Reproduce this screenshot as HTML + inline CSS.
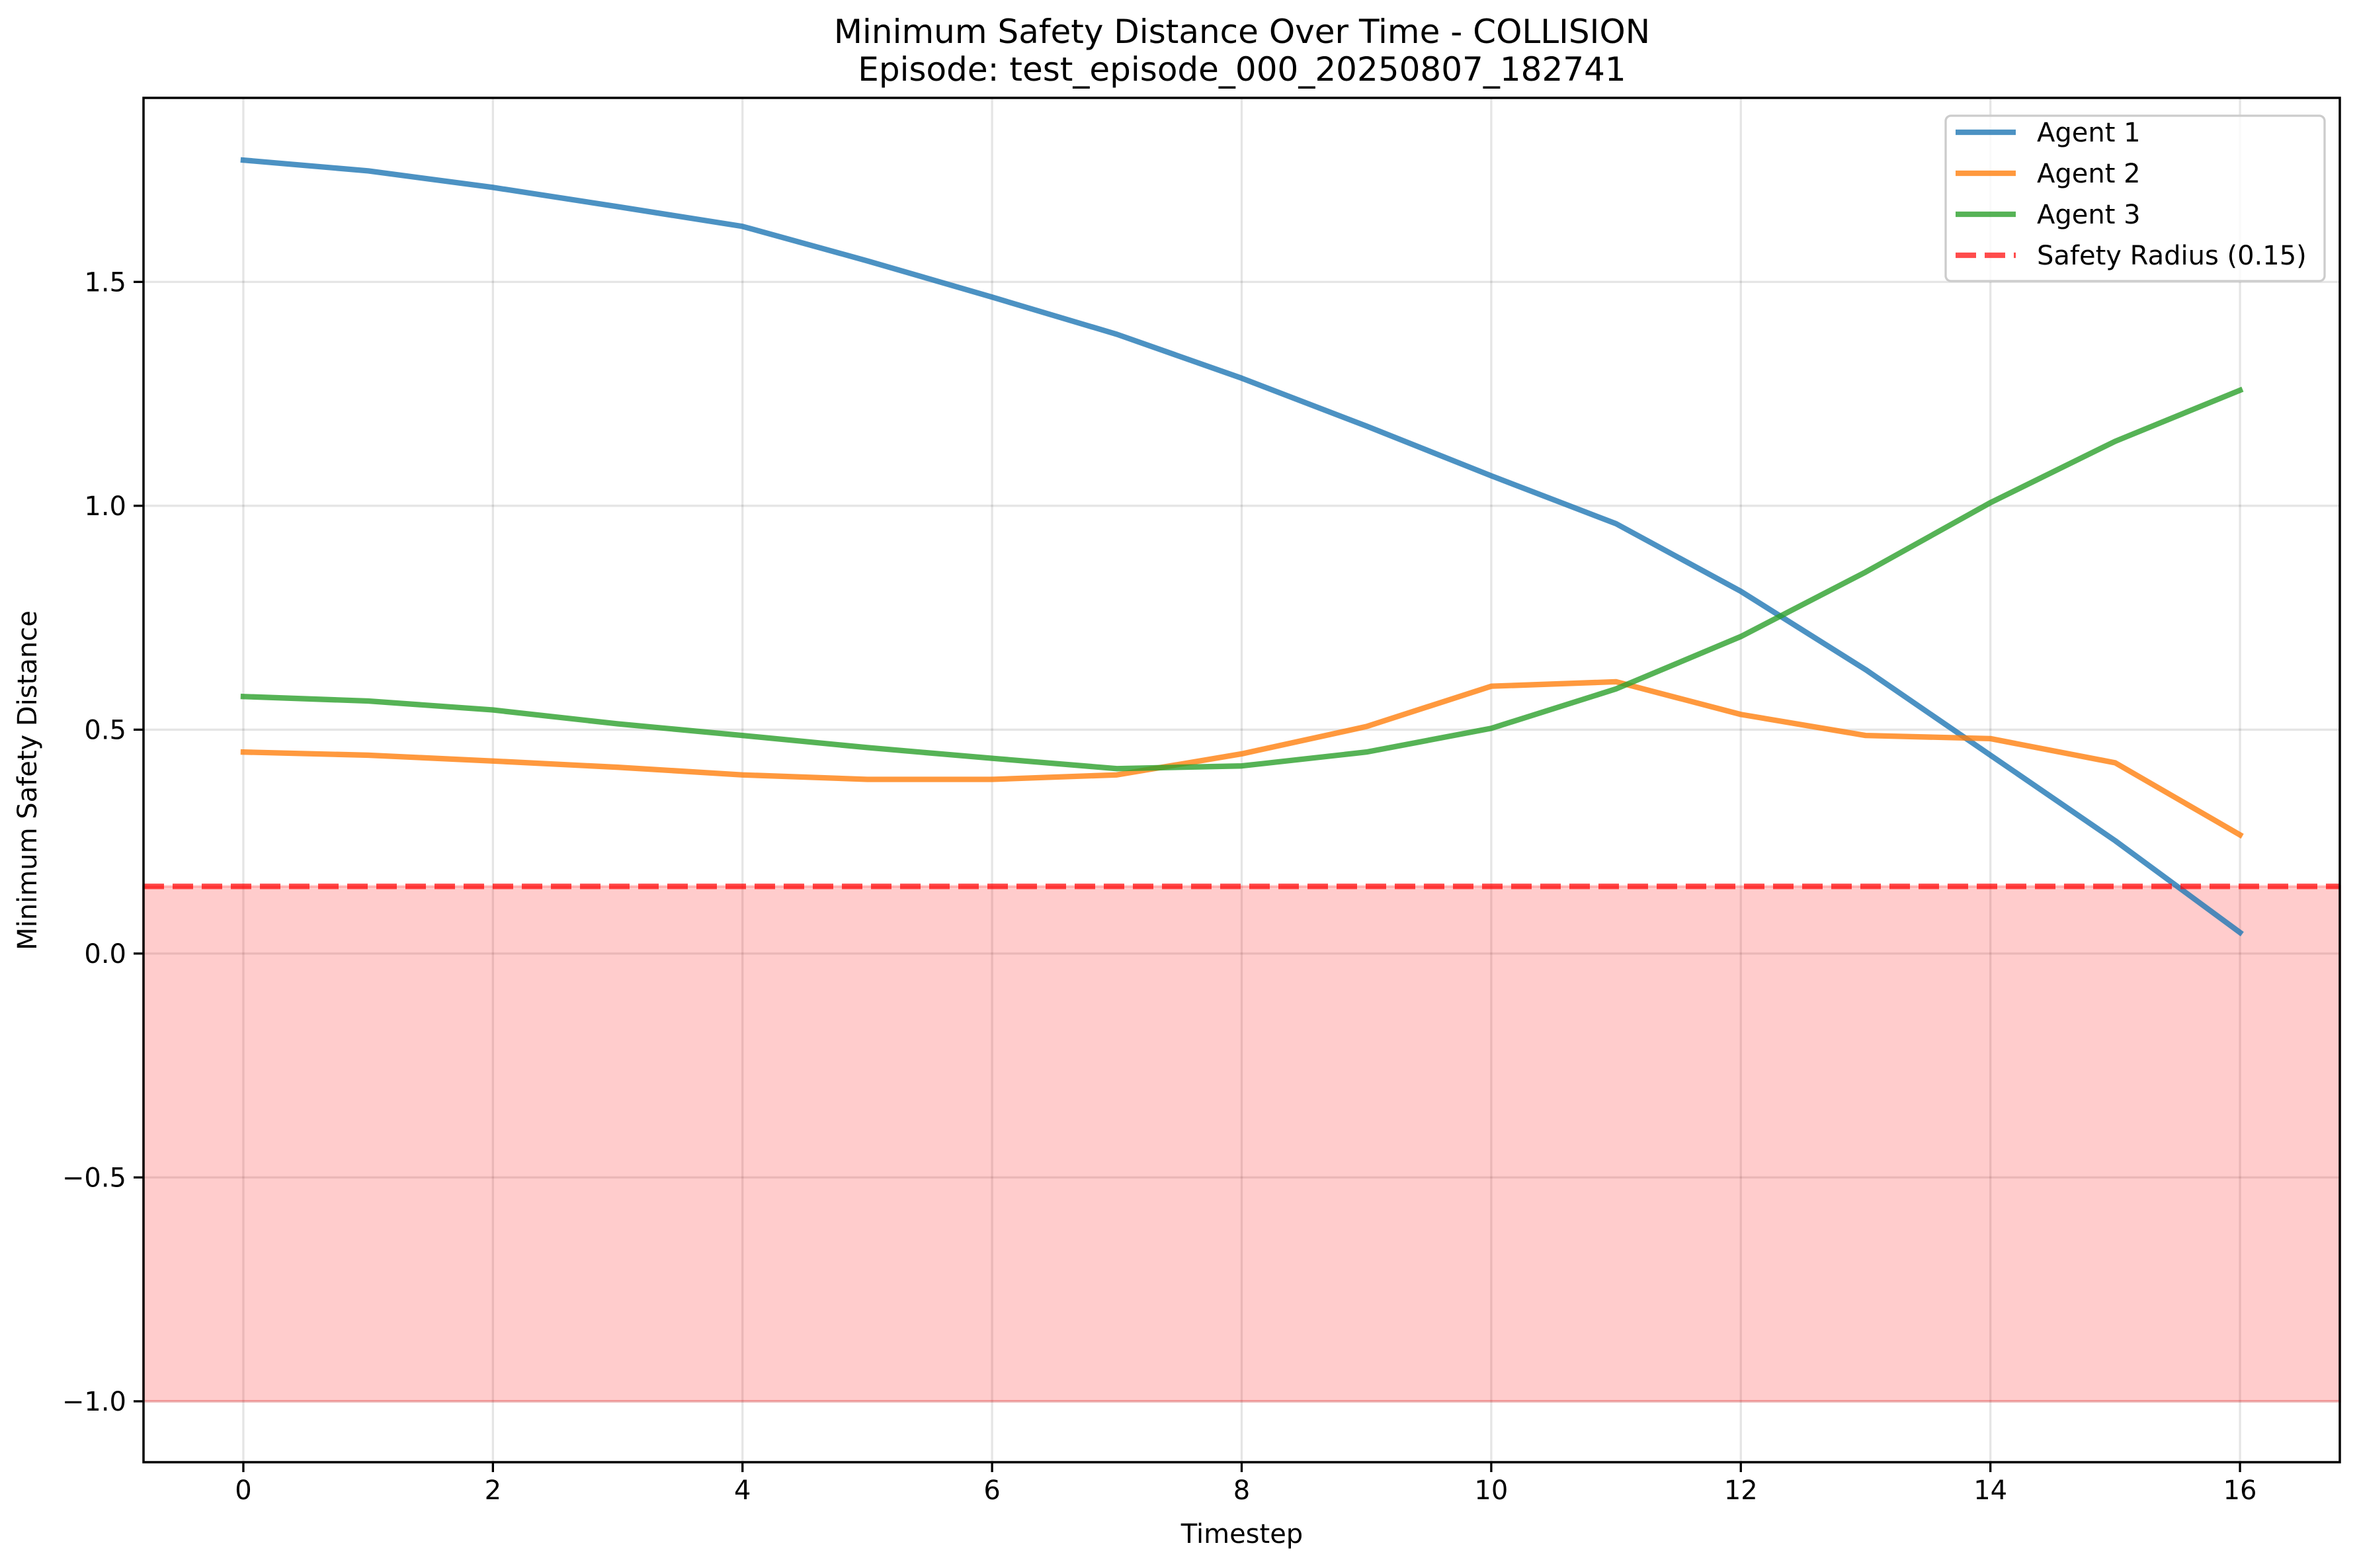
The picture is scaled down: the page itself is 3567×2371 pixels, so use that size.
<!DOCTYPE html>
<html><head><meta charset="utf-8"><style>
html,body{margin:0;padding:0;background:#fff}
svg{display:block;font-family:"DejaVu Sans","Liberation Sans",sans-serif}
</style></head><body>
<svg id="chart" width="3567" height="2371" viewBox="0 0 3567 2371" xmlns="http://www.w3.org/2000/svg">
<rect width="3567" height="2371" fill="#fff"/>
<text x="1878" y="65" font-size="50" text-anchor="middle">Minimum Safety Distance Over Time - COLLISION</text>
<text x="1878" y="122" font-size="50" text-anchor="middle">Episode: test_episode_000_20250807_182741</text>
<g id="plot"></g>
<text x="1878" y="2333" font-size="40" text-anchor="middle">Timestep</text>
<text x="0" y="0" font-size="40" text-anchor="middle" transform="translate(55,1180) rotate(-90)">Minimum Safety Distance</text>
</svg>
<script>
const timesteps=[0,1,2,3,4,5,6,7,8,9,10,11,12,13,14,15,16];
const agent1=[1.772,1.748,1.711,1.668,1.624,1.547,1.466,1.383,1.285,1.178,1.067,0.960,0.809,0.634,0.443,0.252,0.047];
const agent2=[0.450,0.443,0.430,0.416,0.399,0.389,0.389,0.399,0.446,0.507,0.597,0.607,0.534,0.487,0.480,0.426,0.265];
const agent3=[0.574,0.564,0.544,0.513,0.487,0.460,0.436,0.413,0.419,0.450,0.503,0.591,0.708,0.852,1.007,1.144,1.258];
const safetyRadius=0.15;
const fillBottom=-1;
const xTicks=[0,2,4,6,8,10,12,14,16];
const yTicks=[-1.0,-0.5,0.0,0.5,1.0,1.5];
const yTickLabels=["\u22121.0","\u22120.5","0.0","0.5","1.0","1.5"];
const seriesNames=["Agent 1","Agent 2","Agent 3"];

const L=217,R=3538,T=148,B=2211;
const xmin=-0.80,xmax=16.80,ymin=-1.136,ymax=1.911;
const X=v=>L+(v-xmin)/(xmax-xmin)*(R-L);
const Y=v=>B-(v-ymin)/(ymax-ymin)*(B-T);
const NS="http://www.w3.org/2000/svg";
const plot=document.getElementById('plot');
function mk(tag,attrs,parent){const e=document.createElementNS(NS,tag);for(const k in attrs)e.setAttribute(k,attrs[k]);(parent||plot).appendChild(e);return e;}

xTicks.forEach(t=>{const g=mk('line',{x1:X(t),x2:X(t),y1:T,y2:B,stroke:'#000','stroke-opacity':0.1,'stroke-width':3.3});

});
yTicks.forEach(t=>{const g=mk('line',{x1:L,x2:R,y1:Y(t),y2:Y(t),stroke:'#000','stroke-opacity':0.1,'stroke-width':3.3});

});

const zone=mk('rect',{x:L,y:Y(safetyRadius),width:R-L,height:Y(fillBottom)-Y(safetyRadius),fill:'#ff0000','fill-opacity':0.2,stroke:'#ff0000','stroke-opacity':0.2,'stroke-width':4});



const colors=['#1f77b4','#ff7f0e','#2ca02c'];
[agent1,agent2,agent3].forEach((s,i)=>{
  const p=mk('polyline',{points:s.map((v,j)=>X(timesteps[j])+','+Y(v)).join(' '),fill:'none',stroke:colors[i],'stroke-opacity':0.8,'stroke-width':8.3,'stroke-linejoin':'round','stroke-linecap':'square'});
  
  
});
const sl=mk('line',{x1:L,x2:R,y1:Y(safetyRadius),y2:Y(safetyRadius),stroke:'#ff0000','stroke-opacity':0.7,'stroke-width':8.3,'stroke-dasharray':'31 13'});



const sp=mk('rect',{x:L,y:T,width:R-L,height:B-T,fill:'none',stroke:'#000','stroke-width':3.5});



xTicks.forEach(t=>{
  const tk=mk('line',{x1:X(t),x2:X(t),y1:B,y2:B+15,stroke:'#000','stroke-width':3.3});
  
  
  const tx=mk('text',{x:X(t),y:2267,'font-size':40,'text-anchor':'middle'});
  tx.textContent=String(t);
  
  
});
yTicks.forEach((t,i)=>{
  const tk=mk('line',{x1:L-15,x2:L,y1:Y(t),y2:Y(t),stroke:'#000','stroke-width':3.3});
  
  
  const tx=mk('text',{x:L-26,y:Y(t)+14,'font-size':40,'text-anchor':'end'});
  tx.textContent=yTickLabels[i];
  
  
});

const lg=mk('g',{});


mk('rect',{x:2942,y:175,width:573,height:250,rx:8,fill:'#fff','fill-opacity':0.8,stroke:'#ccc','stroke-width':3.3},lg);
const legNames=seriesNames.concat(["Safety Radius (0.15)"]);
legNames.forEach((n,i)=>{
  const y=200+i*62;
  const ln=mk('line',{x1:2957,x2:3048,y1:y,y2:y,stroke:i<3?colors[i]:'#ff0000','stroke-opacity':i<3?0.8:0.7,'stroke-width':8.3,'stroke-dasharray':i<3?'none':'31 13'},lg);
  
  
  const tx=mk('text',{x:3080,y:y+14,'font-size':40},lg);
  tx.textContent=n;
  
  
});
</script>
</body></html>
